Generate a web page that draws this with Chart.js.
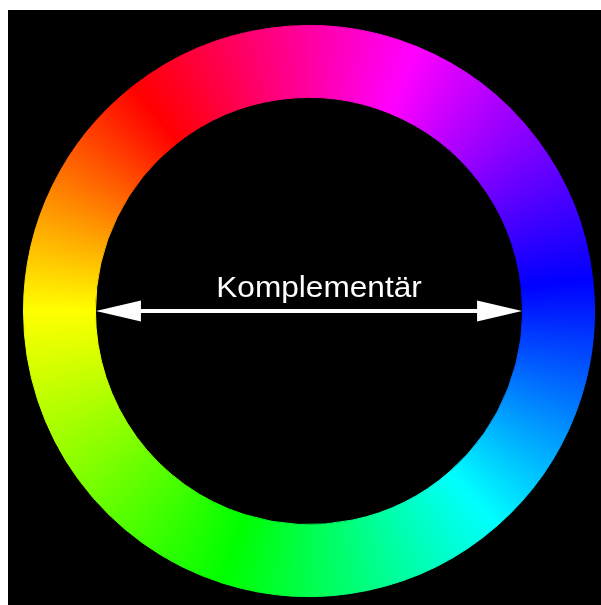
<!DOCTYPE html>
<html>
<head>
<meta charset="utf-8">
<script src="https://cdn.jsdelivr.net/npm/chart.js@4/dist/chart.umd.min.js"></script>
<style>
  html, body { margin: 0; padding: 0; background: #fff; }
  #frame { position: absolute; left: 8px; top: 10px; width: 593px; height: 595px; background: #000; }
  #wrap { position: absolute; left: 11px; top: 11px; width: 580px; height: 580px; }
</style>
</head>
<body>
<div id="frame">
  <div id="wrap"><canvas id="myChart"></canvas></div>
</div>
<script>
// colour wheel, clockwise starting from red (upper left)
// each slice runs from one pure hue to the next one
const hueNames = ['Rot', 'Magenta', 'Blau', 'Cyan', 'Grün', 'Gelb'];
const hueColors = ['#ff0000', '#ff00ff', '#0000ff', '#00ffff', '#00ff00', '#ffff00'];
const hueSpans = [60, 61.5, 55.3, 58.8, 72.4, 52]; // degrees
const arrowLabel = 'Komplementär';

const wheelRotation = -38; // degrees from top, where red sits

function wheelGradient(context) {
  const chart = context.chart;
  const area = chart.chartArea;
  if (!area) return hueColors[0];
  const cx = (area.left + area.right) / 2;
  const cy = (area.top + area.bottom) / 2;
  const start = (wheelRotation - 90) * Math.PI / 180;
  const g = chart.ctx.createConicGradient(start, cx, cy);
  const total = hueSpans.reduce((a, b) => a + b, 0);
  let acc = 0;
  hueColors.forEach((c, i) => {
    g.addColorStop(acc / total, c);
    acc += hueSpans[i];
  });
  g.addColorStop(1, hueColors[0]);
  return g;
}

// arrow + label across the inner hole
const complementPlugin = {
  id: 'complement',
  afterDraw(chart) {
    const arc = chart.getDatasetMeta(0).data[0];
    if (!arc) return;
    const ctx = chart.ctx;
    const cx = arc.x, cy = arc.y;
    const r = arc.innerRadius;
    const left = cx - r + 0.5, right = cx + r - 0.5;
    const headLen = 45, headHalf = 10.5;
    ctx.save();
    ctx.fillStyle = '#fff';
    ctx.strokeStyle = '#fff';
    ctx.lineWidth = 4;
    ctx.beginPath();
    ctx.moveTo(left + headLen - 2, cy);
    ctx.lineTo(right - headLen + 2, cy);
    ctx.stroke();
    ctx.beginPath();
    ctx.moveTo(left, cy);
    ctx.lineTo(left + headLen, cy - headHalf);
    ctx.lineTo(left + headLen, cy + headHalf);
    ctx.closePath();
    ctx.fill();
    ctx.beginPath();
    ctx.moveTo(right, cy);
    ctx.lineTo(right - headLen, cy - headHalf);
    ctx.lineTo(right - headLen, cy + headHalf);
    ctx.closePath();
    ctx.fill();
    // label, slightly stretched like the original
    ctx.translate(cx + 10, cy - 14);
    ctx.scale(1.09, 1);
    ctx.font = '29px "Liberation Sans", Arial, sans-serif';
    ctx.textAlign = 'center';
    ctx.textBaseline = 'alphabetic';
    ctx.fillText(arrowLabel, 0, 0);
    ctx.restore();
  }
};

new Chart(document.getElementById('myChart'), {
  type: 'doughnut',
  data: {
    labels: hueNames,
    datasets: [{
      data: hueSpans,
      backgroundColor: wheelGradient,
      borderColor: wheelGradient,
      borderWidth: 1
    }]
  },
  options: {
    responsive: true,
    maintainAspectRatio: false,
    animation: false,
    rotation: wheelRotation,
    cutout: '74.8%',
    layout: { padding: 4 },
    plugins: {
      legend: { display: false },
      tooltip: { enabled: false }
    }
  },
  plugins: [complementPlugin]
});
</script>
</body>
</html>
